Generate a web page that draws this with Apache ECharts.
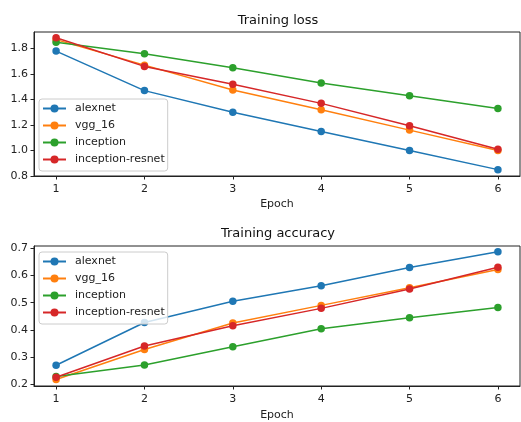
<!DOCTYPE html>
<html>
<head>
<meta charset="utf-8">
<script src="https://cdn.jsdelivr.net/npm/echarts@6/dist/echarts.min.js"></script>
<style>html,body{margin:0;padding:0;background:#fff}#c{width:521px;height:422px}</style>
</head>
<body>
<div id="c"></div>
<script>
const epochs = [1, 2, 3, 4, 5, 6];
const seriesNames = ['alexnet', 'vgg_16', 'inception', 'inception-resnet'];
const lossAlexnet = [1.78, 1.47, 1.30, 1.15, 1.00, 0.85];
const lossVgg16 = [1.87, 1.67, 1.475, 1.32, 1.16, 1.00];
const lossInception = [1.85, 1.76, 1.65, 1.53, 1.43, 1.33];
const lossResnet = [1.885, 1.66, 1.52, 1.37, 1.195, 1.01];
const accAlexnet = [0.27, 0.427, 0.505, 0.562, 0.629, 0.687];
const accVgg16 = [0.218, 0.328, 0.425, 0.49, 0.555, 0.622];
const accInception = [0.229, 0.271, 0.338, 0.404, 0.445, 0.482];
const accResnet = [0.226, 0.341, 0.415, 0.479, 0.55, 0.63];
const lossTicks = [0.8, 1.0, 1.2, 1.4, 1.6, 1.8];
const accTicks = [0.2, 0.3, 0.4, 0.5, 0.6, 0.7];
const colors = ['#1f77b4', '#ff7f0e', '#2ca02c', '#d62728'];

const FONT = 'DejaVu Sans';
const pair = arr => epochs.map((e, i) => [e, arr[i]]);

function xAxis(gi, gap) {
  return {
    type: 'value', gridIndex: gi, min: 0.75, max: 6.25,
    name: 'Epoch', nameLocation: 'middle', nameGap: gap,
    nameTextStyle: {color: '#222', fontFamily: FONT, fontSize: 11},
    axisLine: {show: true, lineStyle: {color: '#222', width: 1}},
    axisTick: {show: true, length: 3.5, lineStyle: {color: '#222'}, customValues: epochs},
    axisLabel: {color: '#222', fontFamily: FONT, fontSize: 11, margin: 8, customValues: epochs},
    splitLine: {show: false}
  };
}
function yAxis(gi, min, max, ticks) {
  return {
    type: 'value', gridIndex: gi, min: min, max: max,
    axisLine: {show: true, lineStyle: {color: '#222', width: 1}},
    axisTick: {show: true, length: 3.5, lineStyle: {color: '#222'}, customValues: ticks},
    axisLabel: {color: '#222', fontFamily: FONT, fontSize: 11, margin: 6, customValues: ticks,
      formatter: v => v.toFixed(1)},
    splitLine: {show: false}
  };
}
function mk(name, data, ci, xi) {
  return {
    name: name, type: 'line', xAxisIndex: xi, yAxisIndex: xi, data: pair(data),
    symbol: 'circle', symbolSize: 7.5, color: colors[ci],
    lineStyle: {width: 1.5, color: colors[ci]}, itemStyle: {color: colors[ci]},
    animation: false, z: 2 + ci
  };
}
function legend(top) {
  return {
    orient: 'vertical', left: 39, top: top, data: seriesNames,
    backgroundColor: 'rgba(255,255,255,0.8)', borderColor: '#ccc', borderWidth: 1, borderRadius: 3,
    padding: [4, 3, 6, 3], itemGap: 6, itemWidth: 23, itemHeight: 10,
    textStyle: {color: '#222', fontFamily: FONT, fontSize: 11, padding: [0, 0, 0, 4]},
    selectedMode: false
  };
}
const chart = echarts.init(document.getElementById('c'), null, {renderer: 'canvas'});
chart.setOption({
  animation: false,
  backgroundColor: '#fff',
  title: [
    {text: 'Training loss', left: 273, top: 9, textAlign: 'center',
     textStyle: {fontFamily: FONT, fontSize: 13, fontWeight: 'normal', color: '#111'}},
    {text: 'Training accuracy', left: 273, top: 222, textAlign: 'center',
     textStyle: {fontFamily: FONT, fontSize: 13, fontWeight: 'normal', color: '#111'}}
  ],
  grid: [
    {left: 34, top: 32, width: 486, height: 144, show: true, borderColor: '#222', borderWidth: 1, backgroundColor: 'transparent'},
    {left: 34, top: 246, width: 486, height: 143, show: true, borderColor: '#222', borderWidth: 1, backgroundColor: 'transparent'}
  ],
  legend: [legend(99), legend(252)],
  xAxis: [xAxis(0, 23), xAxis(1, 24)],
  yAxis: [yAxis(0, 0.8, 1.93, lossTicks), yAxis(1, 0.194, 0.708, accTicks)],
  series: [
    mk('alexnet', lossAlexnet, 0, 0),
    mk('vgg_16', lossVgg16, 1, 0),
    mk('inception', lossInception, 2, 0),
    mk('inception-resnet', lossResnet, 3, 0),
    mk('alexnet', accAlexnet, 0, 1),
    mk('vgg_16', accVgg16, 1, 1),
    mk('inception', accInception, 2, 1),
    mk('inception-resnet', accResnet, 3, 1)
  ]
});
</script>
</body>
</html>
